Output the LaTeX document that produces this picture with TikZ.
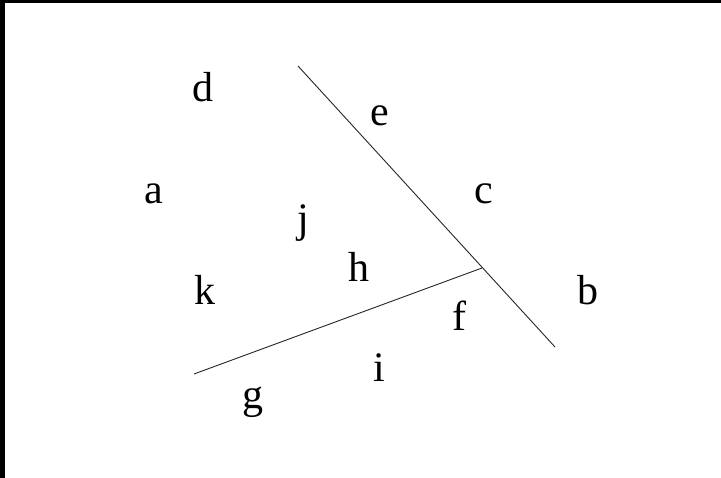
\documentclass[tikz,border=0pt]{standalone}
\usepackage{fontspec}
\setmainfont{Liberation Serif}
\begin{document}
\begin{tikzpicture}[x=1pt,y=-1pt,
  lbl/.style={anchor=base,inner sep=0pt,font=\fontsize{42}{42}\selectfont},
  edge/.style={line width=0.9pt,black!85}]
\useasboundingbox (0,0) rectangle (721,478);
\fill[white] (0,0) rectangle (721,478);
\fill[black] (0,0) rectangle (721,3);
\fill[black] (0,0) rectangle (5,478);
\coordinate (p1) at (298,66);
\coordinate (p2) at (555,347);
\coordinate (q1) at (194,374);
\coordinate (q2) at (482,268);
\draw[edge] (p1) -- (p2);
\draw[edge] (q1) -- (q2);
\node[lbl] (d) at (203,102) {d};
\node[lbl] (e) at (380,126) {e};
\node[lbl] (a) at (154,204) {a};
\node[lbl] (c) at (484,204) {c};
\node[lbl] (j) at (303,233) {j};
\node[lbl] (h) at (359,282) {h};
\node[lbl] (k) at (205,305) {k};
\node[lbl] (b) at (588,305) {b};
\node[lbl] (f) at (459,331) {f};
\node[lbl] (i) at (379,382) {i};
\node[lbl] (g) at (253,409) {g};
\end{tikzpicture}
\end{document}
